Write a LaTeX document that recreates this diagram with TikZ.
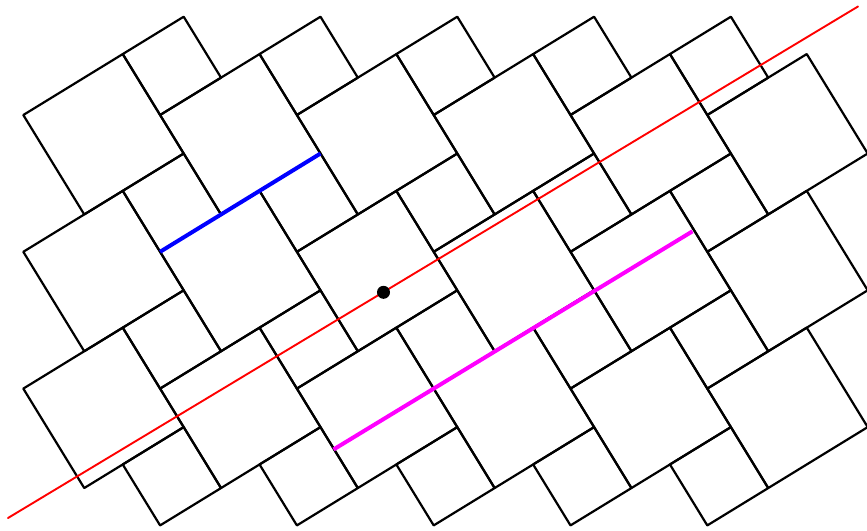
\documentclass[tikz,border=0pt]{standalone}
\usetikzlibrary{calc}
\definecolor{tim}{RGB}{255,0,255}
\begin{document}
\begin{tikzpicture}[x=1pt, y=-1pt, line join=round, line cap=round,
		edge/.style={line width=2.2pt},
		seg/.style={line width=4pt, line cap=butt}]
	\useasboundingbox (0,0) rectangle (867,530);
	% Chu kì của lưới và góc nghiêng của các hình vuông
	\pgfmathsetmacro{\per}{136.8}
	\pgfmathsetmacro{\ang}{31.5}
	\pgfmathsetmacro{\big}{\per*cos(\ang)}
	\pgfmathsetmacro{\sml}{\per*sin(\ang)}
	\pgfmathsetmacro{\len}{\big+\sml}
	\coordinate (O) at (23.3,115);
	% Các hình vuông lớn
	\foreach \i in {0,...,5}
		\foreach \j in {0,1,2}
			\draw[edge] ($(O)+(\i*\per,\j*\per)$) -- ++(-\ang:\big) -- ++(90-\ang:\big) -- ++(180-\ang:\big) -- cycle;
	% Các hình vuông nhỏ
	\foreach \i in {0,...,4}
		\foreach \j in {0,...,3}
			\draw[edge] ($(O)+(\i*\per,\j*\per)$) ++(-\ang:\big) -- ++(-\ang:\sml) -- ++(90-\ang:\sml) -- ++(180-\ang:\sml) -- cycle;
	% Đoạn xanh dài bằng tổng hai cạnh
	\coordinate (A) at ($(O)+(\per,\per)$);
	\coordinate (B) at ($(A)+(-\ang:\len)$);
	\draw[seg, blue] (A) -- (B);
	% Đoạn tím
	\coordinate (C) at (333.5,449.5);
	\coordinate (D) at (692.5,231.3);
	\draw[seg, tim] (C) -- (D);
	% Đường thẳng đỏ qua điểm M
	\coordinate (E) at (8,518);
	\coordinate (F) at (858,6.5);
	\draw[red, line width=1.9pt] (E) -- (F);
	\node[circle, fill, inner sep=0pt, minimum size=13pt] (M) at (383.5,292.3) {};
\end{tikzpicture}
\end{document}
